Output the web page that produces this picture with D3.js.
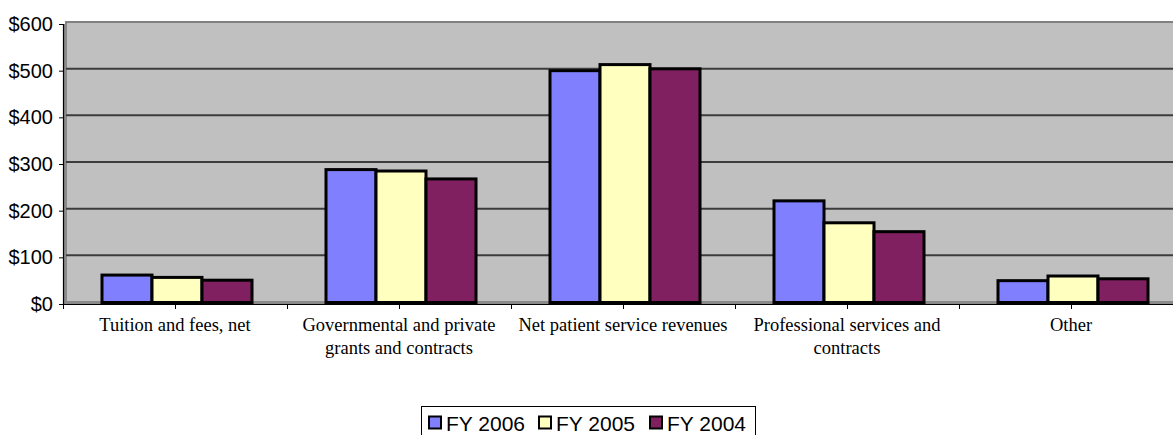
<!DOCTYPE html>
<html lang="en">
<head>
    <meta charset="UTF-8">
    <title>Revenue by source</title>
    <script src="https://d3js.org/d3.v7.min.js"></script>
    <style>
        body { margin: 0; background: #fff; }
        svg { display: block; }
    </style>
</head>
<body>
    <svg width="1173" height="435"></svg>
    <script>

// categories (line breaks as in the original axis)
const categories = [
    "Tuition and fees, net",
    "Governmental and private\ngrants and contracts",
    "Net patient service revenues",
    "Professional services and\ncontracts",
    "Other"
];
const seriesNames = ["FY 2006", "FY 2005", "FY 2004"];
const fy2006 = [62, 288, 500, 221, 50];
const fy2005 = [57, 285, 513, 174, 60];
const fy2004 = [51, 268, 504, 155, 54];
const yTicks = [0, 100, 200, 300, 400, 500, 600];
const colors = ["#8080FF", "#FFFFC0", "#802060"];

const seriesValues = [fy2006, fy2005, fy2004];

const svg = d3.select("svg");
const plotLeft = 63, plotTop = 24, plotBottom = 304;
const catStep = 224;
const dx = 3, dy = -2; // small 3d offset of the wall

const x0 = d3.scaleBand().domain(categories).range([plotLeft, plotLeft + catStep * categories.length]).padding(0);
const x1 = d3.scaleBand().domain(seriesNames).range([39, 189]).padding(0);
const y = d3.scaleLinear().domain([0, 600]).range([plotBottom, plotTop]);

// wall
svg.append("rect")
    .attr("x", plotLeft + dx).attr("y", plotTop + dy)
    .attr("width", 1200).attr("height", plotBottom - plotTop)
    .attr("fill", "#C0C0C0")
    .attr("stroke", "#808080").attr("stroke-width", 2);
// left side and floor of the wall
svg.append("rect")
    .attr("x", plotLeft).attr("y", plotTop)
    .attr("width", dx + 1).attr("height", plotBottom - plotTop)
    .attr("fill", "#8a8a8a");
svg.append("rect")
    .attr("x", plotLeft).attr("y", plotBottom + dy - 1)
    .attr("width", 1200).attr("height", 3)
    .attr("fill", "#8a8a8a");

// gridlines
svg.append("g")
    .selectAll("line")
    .data(yTicks.filter(d => d > 0))
    .join("line")
    .attr("x1", plotLeft + dx).attr("x2", 1173)
    .attr("y1", d => y(d) + dy).attr("y2", d => y(d) + dy)
    .attr("stroke", d => d === 600 ? "#808080" : "#3c3c3c")
    .attr("stroke-width", 2);

// bars
const groups = svg.append("g")
    .selectAll("g")
    .data(categories)
    .join("g")
    .attr("transform", d => `translate(${x0(d)},0)`);

groups.selectAll("rect")
    .data((d, i) => seriesNames.map((s, j) => ({ s, v: seriesValues[j][i], c: colors[j] })))
    .join("rect")
    .attr("x", d => x1(d.s))
    .attr("y", d => y(d.v))
    .attr("width", x1.bandwidth())
    .attr("height", d => y(0) - 1.5 - y(d.v))
    .attr("fill", d => d.c)
    .attr("stroke", "#000")
    .attr("stroke-width", 3);

// y axis
const yAxis = svg.append("g")
    .attr("transform", `translate(${plotLeft},0)`)
    .call(d3.axisLeft(y).tickValues(yTicks).tickFormat(d => "$" + d).tickSize(4).tickPadding(6));
yAxis.select(".domain").attr("stroke", "#000").attr("stroke-width", 1.2);
yAxis.selectAll(".tick line").attr("stroke", "#000");
yAxis.selectAll("text")
    .attr("font-family", "'Liberation Sans', Arial, sans-serif")
    .attr("font-size", 20)
    .attr("fill", "#000");

// x axis: ticks at category edges and centres
const halfTicks = d3.range(0, categories.length * 2 + 1).map(k => plotLeft + k * catStep / 2).filter(v => v <= 1173);
svg.append("line")
    .attr("x1", plotLeft).attr("x2", 1173)
    .attr("y1", plotBottom + 0.5).attr("y2", plotBottom + 0.5)
    .attr("stroke", "#000").attr("stroke-width", 1.2);
svg.append("g")
    .selectAll("line")
    .data(halfTicks)
    .join("line")
    .attr("x1", d => d + 0.5).attr("x2", d => d + 0.5)
    .attr("y1", plotBottom).attr("y2", plotBottom + 5)
    .attr("stroke", "#000");

// category labels
const labels = svg.append("g")
    .selectAll("text")
    .data(categories)
    .join("text")
    .attr("x", d => x0(d) + x0.bandwidth() / 2)
    .attr("y", 331)
    .attr("text-anchor", "middle")
    .attr("font-family", "'Liberation Serif', 'Times New Roman', serif")
    .attr("font-size", 18.5)
    .attr("fill", "#000");
labels.selectAll("tspan")
    .data(d => d.split("\n"))
    .join("tspan")
    .attr("x", function () { return d3.select(this.parentNode).attr("x"); })
    .attr("dy", (d, i) => i === 0 ? 0 : 23)
    .text(d => d);

// legend
const legend = svg.append("g").attr("transform", "translate(421,406)");
legend.append("rect")
    .attr("x", 0.5).attr("y", 0.5)
    .attr("width", 334).attr("height", 32)
    .attr("fill", "#fff").attr("stroke", "#000");
const itemX = [7, 117, 228];
const items = legend.selectAll("g.item")
    .data(seriesNames)
    .join("g")
    .attr("class", "item")
    .attr("transform", (d, i) => `translate(${itemX[i]},0)`);
items.append("rect")
    .attr("x", 1).attr("y", 10.5)
    .attr("width", 12).attr("height", 12)
    .attr("fill", (d, i) => colors[i])
    .attr("stroke", "#000").attr("stroke-width", 2);
items.append("text")
    .attr("x", 18).attr("y", 25)
    .attr("font-family", "'Liberation Sans', Arial, sans-serif")
    .attr("font-size", 21)
    .attr("fill", "#000")
    .text(d => d);

    </script>
</body>
</html>
